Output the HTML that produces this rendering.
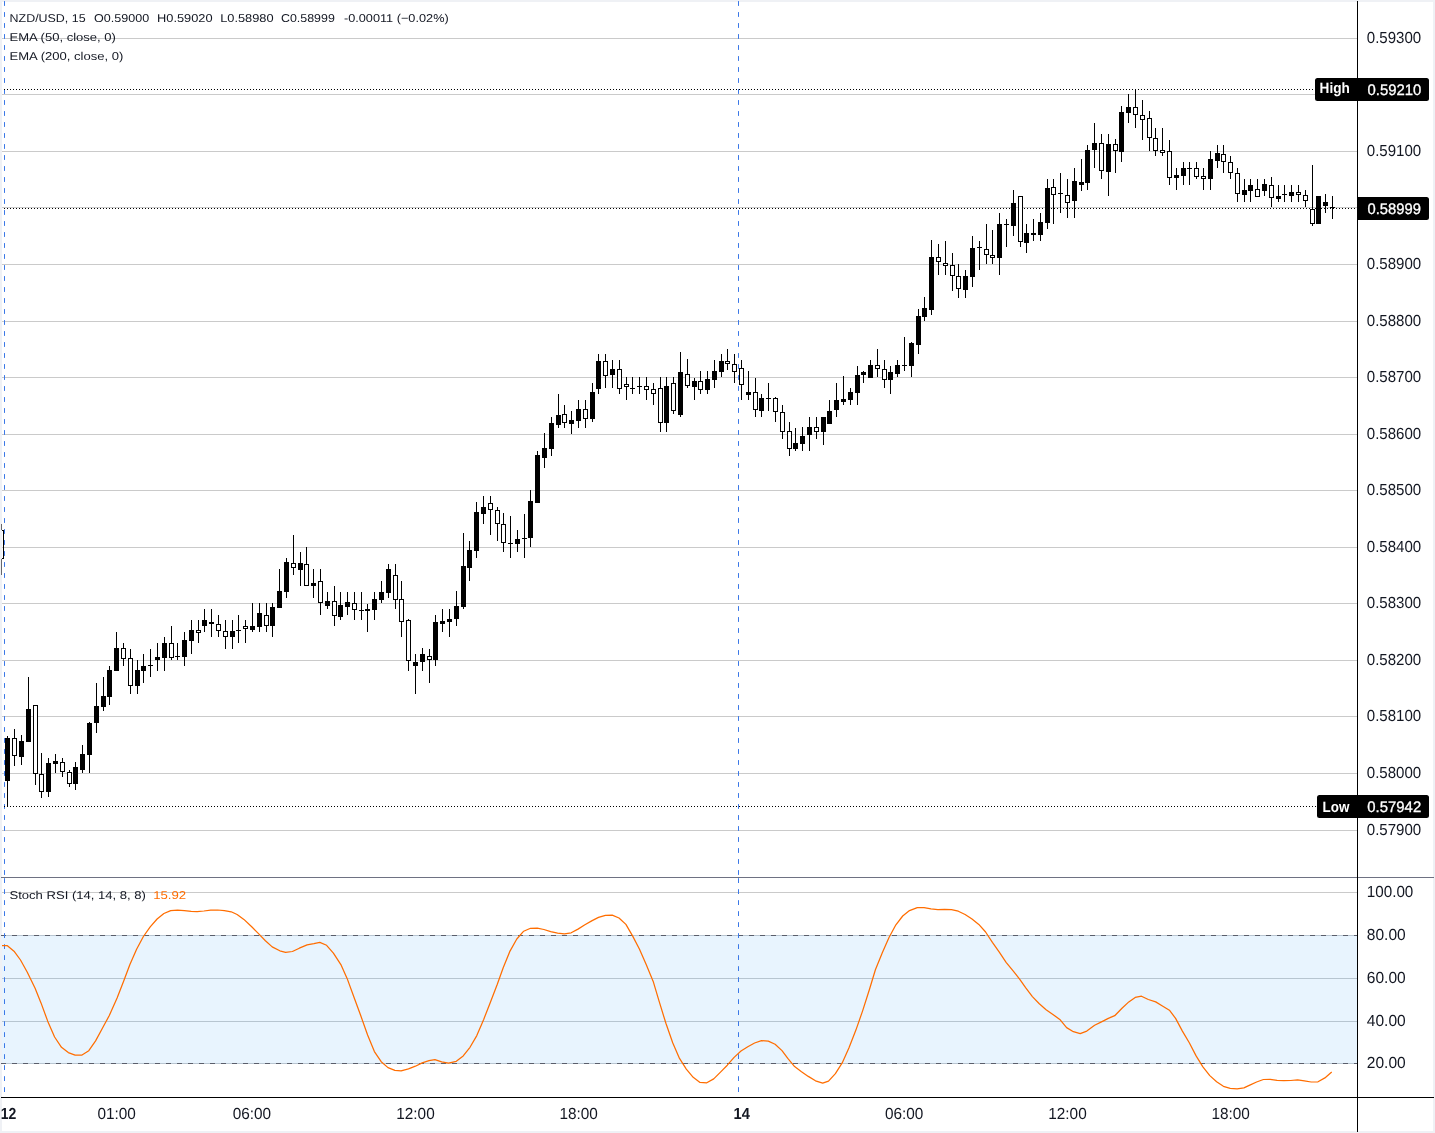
<!DOCTYPE html>
<html><head><meta charset="utf-8"><title>NZD/USD</title>
<style>
html,body{margin:0;padding:0;background:#fff;}
body{width:1435px;height:1133px;overflow:hidden;position:relative;font-family:"Liberation Sans", sans-serif;}
</style></head>
<body>
<svg width="1435" height="1133" viewBox="0 0 1435 1133" style="display:block;position:absolute;left:0;top:0;will-change:transform;text-rendering:geometricPrecision" font-family='"Liberation Sans", sans-serif'>
<rect x="0" y="0" width="1435" height="1133" fill="#eff1f5"/>
<rect x="2" y="2" width="1431" height="1129" fill="#ffffff"/>
<g shape-rendering="crispEdges">
<rect x="2" y="38" width="1355" height="1" fill="#cacaca"/>
<rect x="2" y="94" width="1355" height="1" fill="#cacaca"/>
<rect x="2" y="151" width="1355" height="1" fill="#cacaca"/>
<rect x="2" y="207" width="1355" height="1" fill="#cacaca"/>
<rect x="2" y="264" width="1355" height="1" fill="#cacaca"/>
<rect x="2" y="321" width="1355" height="1" fill="#cacaca"/>
<rect x="2" y="377" width="1355" height="1" fill="#cacaca"/>
<rect x="2" y="434" width="1355" height="1" fill="#cacaca"/>
<rect x="2" y="490" width="1355" height="1" fill="#cacaca"/>
<rect x="2" y="547" width="1355" height="1" fill="#cacaca"/>
<rect x="2" y="603" width="1355" height="1" fill="#cacaca"/>
<rect x="2" y="660" width="1355" height="1" fill="#cacaca"/>
<rect x="2" y="716" width="1355" height="1" fill="#cacaca"/>
<rect x="2" y="773" width="1355" height="1" fill="#cacaca"/>
<rect x="2" y="830" width="1355" height="1" fill="#cacaca"/>
<rect x="2" y="935" width="1355" height="129" fill="#e8f4fe"/>
<rect x="2" y="892" width="1355" height="1" fill="#cacaca"/>
<rect x="2" y="978" width="1355" height="1" fill="#b7c5d0"/>
<rect x="2" y="1021" width="1355" height="1" fill="#b7c5d0"/>
<rect x="2" y="935" width="1355" height="1" fill="#b9c6d2"/>
<rect x="2" y="1063" width="1355" height="1" fill="#b9c6d2"/>
</g>
<line x1="1" y1="935.5" x2="1357" y2="935.5" stroke="#5a5e6b" stroke-width="1" stroke-dasharray="5 6" shape-rendering="crispEdges"/>
<line x1="1" y1="1063.5" x2="1357" y2="1063.5" stroke="#5a5e6b" stroke-width="1" stroke-dasharray="5 6" shape-rendering="crispEdges"/>
<line x1="4.5" y1="1.1" x2="4.5" y2="877" stroke="#3b78e7" stroke-width="1" stroke-dasharray="4.8 6.2"/>
<line x1="4.5" y1="878.2" x2="4.5" y2="1097" stroke="#3b78e7" stroke-width="1" stroke-dasharray="4.8 6.2"/>
<line x1="738.5" y1="1.1" x2="738.5" y2="877" stroke="#3b78e7" stroke-width="1" stroke-dasharray="4.8 6.2"/>
<line x1="738.5" y1="878.2" x2="738.5" y2="1097" stroke="#3b78e7" stroke-width="1" stroke-dasharray="4.8 6.2"/>
<line x1="4" y1="89.5" x2="1315" y2="89.5" stroke="#000" stroke-width="1" stroke-dasharray="1 2" shape-rendering="crispEdges"/>
<line x1="4" y1="208.5" x2="1357" y2="208.5" stroke="#000" stroke-width="1" stroke-dasharray="1 2" shape-rendering="crispEdges"/>
<line x1="4" y1="806.5" x2="1317" y2="806.5" stroke="#000" stroke-width="1" stroke-dasharray="1 2" shape-rendering="crispEdges"/>
<g shape-rendering="crispEdges" fill="#000">
<rect x="7" y="736" width="1" height="70"/>
<rect x="5" y="738" width="5" height="43"/>
<rect x="14" y="729" width="1" height="37"/>
<rect x="12" y="738" width="5" height="18"/>
<rect x="13" y="739" width="3" height="16" fill="#fff"/>
<rect x="21" y="735" width="1" height="30"/>
<rect x="19" y="741" width="5" height="16"/>
<rect x="28" y="677" width="1" height="65"/>
<rect x="26" y="709" width="5" height="33"/>
<rect x="35" y="705" width="1" height="80"/>
<rect x="33" y="705" width="5" height="69"/>
<rect x="34" y="706" width="3" height="67" fill="#fff"/>
<rect x="41" y="753" width="1" height="45"/>
<rect x="39" y="774" width="5" height="18"/>
<rect x="40" y="775" width="3" height="16" fill="#fff"/>
<rect x="48" y="758" width="1" height="39"/>
<rect x="46" y="763" width="5" height="29"/>
<rect x="55" y="754" width="1" height="19"/>
<rect x="53" y="761" width="5" height="3"/>
<rect x="62" y="758" width="1" height="19"/>
<rect x="60" y="762" width="5" height="10"/>
<rect x="61" y="763" width="3" height="8" fill="#fff"/>
<rect x="69" y="770" width="1" height="17"/>
<rect x="67" y="772" width="5" height="12"/>
<rect x="68" y="773" width="3" height="10" fill="#fff"/>
<rect x="75" y="762" width="1" height="28"/>
<rect x="73" y="767" width="5" height="17"/>
<rect x="82" y="745" width="1" height="28"/>
<rect x="80" y="754" width="5" height="16"/>
<rect x="89" y="722" width="1" height="51"/>
<rect x="87" y="723" width="5" height="32"/>
<rect x="96" y="683" width="1" height="50"/>
<rect x="94" y="706" width="5" height="17"/>
<rect x="103" y="677" width="1" height="34"/>
<rect x="101" y="696" width="5" height="11"/>
<rect x="109" y="666" width="1" height="39"/>
<rect x="107" y="670" width="5" height="27"/>
<rect x="116" y="632" width="1" height="39"/>
<rect x="114" y="648" width="5" height="23"/>
<rect x="123" y="643" width="1" height="23"/>
<rect x="121" y="648" width="5" height="11"/>
<rect x="122" y="649" width="3" height="9" fill="#fff"/>
<rect x="130" y="649" width="1" height="45"/>
<rect x="128" y="658" width="5" height="28"/>
<rect x="129" y="659" width="3" height="26" fill="#fff"/>
<rect x="137" y="660" width="1" height="34"/>
<rect x="135" y="670" width="5" height="16"/>
<rect x="143" y="654" width="1" height="29"/>
<rect x="141" y="666" width="5" height="5"/>
<rect x="150" y="649" width="1" height="28"/>
<rect x="148" y="665" width="5" height="1"/>
<rect x="157" y="643" width="1" height="28"/>
<rect x="155" y="657" width="5" height="3"/>
<rect x="164" y="637" width="1" height="34"/>
<rect x="162" y="643" width="5" height="15"/>
<rect x="171" y="626" width="1" height="34"/>
<rect x="169" y="643" width="5" height="15"/>
<rect x="170" y="644" width="3" height="13" fill="#fff"/>
<rect x="177" y="643" width="1" height="17"/>
<rect x="175" y="656" width="5" height="1"/>
<rect x="184" y="632" width="1" height="34"/>
<rect x="182" y="640" width="5" height="17"/>
<rect x="191" y="620" width="1" height="34"/>
<rect x="189" y="630" width="5" height="11"/>
<rect x="198" y="620" width="1" height="23"/>
<rect x="196" y="630" width="5" height="3"/>
<rect x="197" y="631" width="3" height="1" fill="#fff"/>
<rect x="204" y="609" width="1" height="23"/>
<rect x="202" y="620" width="5" height="6"/>
<rect x="211" y="609" width="1" height="28"/>
<rect x="209" y="622" width="5" height="2"/>
<rect x="218" y="615" width="1" height="22"/>
<rect x="216" y="624" width="5" height="7"/>
<rect x="217" y="625" width="3" height="5" fill="#fff"/>
<rect x="225" y="620" width="1" height="29"/>
<rect x="223" y="631" width="5" height="6"/>
<rect x="224" y="632" width="3" height="4" fill="#fff"/>
<rect x="232" y="620" width="1" height="29"/>
<rect x="230" y="631" width="5" height="6"/>
<rect x="238" y="615" width="1" height="28"/>
<rect x="236" y="630" width="5" height="1"/>
<rect x="245" y="620" width="1" height="23"/>
<rect x="243" y="626" width="5" height="3"/>
<rect x="244" y="627" width="3" height="1" fill="#fff"/>
<rect x="252" y="603" width="1" height="29"/>
<rect x="250" y="626" width="5" height="4"/>
<rect x="259" y="603" width="1" height="29"/>
<rect x="257" y="613" width="5" height="14"/>
<rect x="266" y="603" width="1" height="29"/>
<rect x="264" y="615" width="5" height="11"/>
<rect x="265" y="616" width="3" height="9" fill="#fff"/>
<rect x="272" y="603" width="1" height="34"/>
<rect x="270" y="607" width="5" height="19"/>
<rect x="279" y="569" width="1" height="39"/>
<rect x="277" y="591" width="5" height="17"/>
<rect x="286" y="558" width="1" height="40"/>
<rect x="284" y="562" width="5" height="30"/>
<rect x="293" y="535" width="1" height="40"/>
<rect x="291" y="563" width="5" height="5"/>
<rect x="292" y="564" width="3" height="3" fill="#fff"/>
<rect x="300" y="552" width="1" height="34"/>
<rect x="298" y="563" width="5" height="7"/>
<rect x="306" y="547" width="1" height="39"/>
<rect x="304" y="564" width="5" height="22"/>
<rect x="305" y="565" width="3" height="20" fill="#fff"/>
<rect x="313" y="569" width="1" height="29"/>
<rect x="311" y="583" width="5" height="3"/>
<rect x="320" y="569" width="1" height="46"/>
<rect x="318" y="581" width="5" height="22"/>
<rect x="319" y="582" width="3" height="20" fill="#fff"/>
<rect x="327" y="592" width="1" height="17"/>
<rect x="325" y="601" width="5" height="5"/>
<rect x="334" y="586" width="1" height="40"/>
<rect x="332" y="601" width="5" height="15"/>
<rect x="333" y="602" width="3" height="13" fill="#fff"/>
<rect x="340" y="592" width="1" height="28"/>
<rect x="338" y="605" width="5" height="12"/>
<rect x="347" y="592" width="1" height="23"/>
<rect x="345" y="602" width="5" height="5"/>
<rect x="354" y="592" width="1" height="28"/>
<rect x="352" y="603" width="5" height="7"/>
<rect x="353" y="604" width="3" height="5" fill="#fff"/>
<rect x="361" y="592" width="1" height="28"/>
<rect x="359" y="610" width="5" height="1"/>
<rect x="367" y="604" width="1" height="28"/>
<rect x="365" y="609" width="5" height="2"/>
<rect x="374" y="592" width="1" height="28"/>
<rect x="372" y="599" width="5" height="11"/>
<rect x="381" y="581" width="1" height="22"/>
<rect x="379" y="592" width="5" height="8"/>
<rect x="388" y="564" width="1" height="34"/>
<rect x="386" y="569" width="5" height="24"/>
<rect x="395" y="564" width="1" height="45"/>
<rect x="393" y="575" width="5" height="25"/>
<rect x="394" y="576" width="3" height="23" fill="#fff"/>
<rect x="401" y="581" width="1" height="56"/>
<rect x="399" y="599" width="5" height="23"/>
<rect x="400" y="600" width="3" height="21" fill="#fff"/>
<rect x="408" y="619" width="1" height="52"/>
<rect x="406" y="620" width="5" height="41"/>
<rect x="407" y="621" width="3" height="39" fill="#fff"/>
<rect x="415" y="654" width="1" height="40"/>
<rect x="413" y="662" width="5" height="4"/>
<rect x="422" y="648" width="1" height="23"/>
<rect x="420" y="654" width="5" height="8"/>
<rect x="429" y="649" width="1" height="34"/>
<rect x="427" y="656" width="5" height="4"/>
<rect x="428" y="657" width="3" height="2" fill="#fff"/>
<rect x="435" y="615" width="1" height="51"/>
<rect x="433" y="622" width="5" height="38"/>
<rect x="442" y="609" width="1" height="23"/>
<rect x="440" y="621" width="5" height="3"/>
<rect x="449" y="609" width="1" height="28"/>
<rect x="447" y="619" width="5" height="3"/>
<rect x="456" y="591" width="1" height="35"/>
<rect x="454" y="606" width="5" height="13"/>
<rect x="463" y="533" width="1" height="76"/>
<rect x="461" y="566" width="5" height="41"/>
<rect x="469" y="541" width="1" height="40"/>
<rect x="467" y="550" width="5" height="18"/>
<rect x="476" y="502" width="1" height="56"/>
<rect x="474" y="512" width="5" height="39"/>
<rect x="483" y="496" width="1" height="28"/>
<rect x="481" y="507" width="5" height="7"/>
<rect x="490" y="496" width="1" height="39"/>
<rect x="488" y="503" width="5" height="7"/>
<rect x="489" y="504" width="3" height="5" fill="#fff"/>
<rect x="497" y="507" width="1" height="34"/>
<rect x="495" y="510" width="5" height="14"/>
<rect x="496" y="511" width="3" height="12" fill="#fff"/>
<rect x="503" y="513" width="1" height="39"/>
<rect x="501" y="524" width="5" height="19"/>
<rect x="502" y="525" width="3" height="17" fill="#fff"/>
<rect x="510" y="516" width="1" height="42"/>
<rect x="508" y="543" width="5" height="1"/>
<rect x="517" y="530" width="1" height="22"/>
<rect x="515" y="539" width="5" height="5"/>
<rect x="524" y="514" width="1" height="44"/>
<rect x="522" y="538" width="5" height="1"/>
<rect x="530" y="490" width="1" height="57"/>
<rect x="528" y="501" width="5" height="37"/>
<rect x="537" y="451" width="1" height="52"/>
<rect x="535" y="455" width="5" height="48"/>
<rect x="544" y="433" width="1" height="35"/>
<rect x="542" y="448" width="5" height="10"/>
<rect x="551" y="417" width="1" height="39"/>
<rect x="549" y="423" width="5" height="26"/>
<rect x="558" y="394" width="1" height="34"/>
<rect x="556" y="415" width="5" height="10"/>
<rect x="564" y="405" width="1" height="23"/>
<rect x="562" y="414" width="5" height="9"/>
<rect x="563" y="415" width="3" height="7" fill="#fff"/>
<rect x="571" y="411" width="1" height="23"/>
<rect x="569" y="420" width="5" height="4"/>
<rect x="578" y="400" width="1" height="28"/>
<rect x="576" y="409" width="5" height="12"/>
<rect x="585" y="400" width="1" height="28"/>
<rect x="583" y="409" width="5" height="10"/>
<rect x="584" y="410" width="3" height="8" fill="#fff"/>
<rect x="592" y="383" width="1" height="39"/>
<rect x="590" y="392" width="5" height="27"/>
<rect x="598" y="354" width="1" height="40"/>
<rect x="596" y="361" width="5" height="28"/>
<rect x="605" y="354" width="1" height="34"/>
<rect x="603" y="361" width="5" height="15"/>
<rect x="604" y="362" width="3" height="13" fill="#fff"/>
<rect x="612" y="360" width="1" height="28"/>
<rect x="610" y="369" width="5" height="6"/>
<rect x="619" y="360" width="1" height="34"/>
<rect x="617" y="369" width="5" height="20"/>
<rect x="618" y="370" width="3" height="18" fill="#fff"/>
<rect x="626" y="377" width="1" height="23"/>
<rect x="624" y="384" width="5" height="3"/>
<rect x="625" y="385" width="3" height="1" fill="#fff"/>
<rect x="632" y="377" width="1" height="17"/>
<rect x="630" y="388" width="5" height="1"/>
<rect x="639" y="377" width="1" height="17"/>
<rect x="637" y="386" width="5" height="1"/>
<rect x="646" y="377" width="1" height="23"/>
<rect x="644" y="386" width="5" height="4"/>
<rect x="645" y="387" width="3" height="2" fill="#fff"/>
<rect x="653" y="383" width="1" height="22"/>
<rect x="651" y="389" width="5" height="5"/>
<rect x="652" y="390" width="3" height="3" fill="#fff"/>
<rect x="660" y="377" width="1" height="55"/>
<rect x="658" y="388" width="5" height="35"/>
<rect x="659" y="389" width="3" height="33" fill="#fff"/>
<rect x="666" y="377" width="1" height="55"/>
<rect x="664" y="386" width="5" height="37"/>
<rect x="673" y="377" width="1" height="37"/>
<rect x="671" y="383" width="5" height="28"/>
<rect x="672" y="384" width="3" height="26" fill="#fff"/>
<rect x="680" y="352" width="1" height="65"/>
<rect x="678" y="372" width="5" height="43"/>
<rect x="687" y="359" width="1" height="29"/>
<rect x="685" y="374" width="5" height="12"/>
<rect x="686" y="375" width="3" height="10" fill="#fff"/>
<rect x="694" y="378" width="1" height="22"/>
<rect x="692" y="381" width="5" height="6"/>
<rect x="700" y="371" width="1" height="23"/>
<rect x="698" y="381" width="5" height="9"/>
<rect x="699" y="382" width="3" height="7" fill="#fff"/>
<rect x="707" y="371" width="1" height="23"/>
<rect x="705" y="379" width="5" height="11"/>
<rect x="714" y="360" width="1" height="28"/>
<rect x="712" y="371" width="5" height="9"/>
<rect x="721" y="354" width="1" height="23"/>
<rect x="719" y="361" width="5" height="11"/>
<rect x="727" y="349" width="1" height="21"/>
<rect x="725" y="361" width="5" height="3"/>
<rect x="726" y="362" width="3" height="1" fill="#fff"/>
<rect x="734" y="354" width="1" height="29"/>
<rect x="732" y="364" width="5" height="8"/>
<rect x="733" y="365" width="3" height="6" fill="#fff"/>
<rect x="741" y="360" width="1" height="40"/>
<rect x="739" y="368" width="5" height="17"/>
<rect x="740" y="369" width="3" height="15" fill="#fff"/>
<rect x="748" y="371" width="1" height="29"/>
<rect x="746" y="392" width="5" height="3"/>
<rect x="755" y="378" width="1" height="39"/>
<rect x="753" y="392" width="5" height="18"/>
<rect x="754" y="393" width="3" height="16" fill="#fff"/>
<rect x="761" y="394" width="1" height="23"/>
<rect x="759" y="398" width="5" height="13"/>
<rect x="768" y="383" width="1" height="28"/>
<rect x="766" y="398" width="5" height="1"/>
<rect x="775" y="397" width="1" height="25"/>
<rect x="773" y="398" width="5" height="14"/>
<rect x="774" y="399" width="3" height="12" fill="#fff"/>
<rect x="782" y="405" width="1" height="34"/>
<rect x="780" y="412" width="5" height="20"/>
<rect x="781" y="413" width="3" height="18" fill="#fff"/>
<rect x="789" y="422" width="1" height="34"/>
<rect x="787" y="431" width="5" height="18"/>
<rect x="788" y="432" width="3" height="16" fill="#fff"/>
<rect x="795" y="428" width="1" height="23"/>
<rect x="793" y="443" width="5" height="6"/>
<rect x="802" y="427" width="1" height="24"/>
<rect x="800" y="436" width="5" height="8"/>
<rect x="809" y="417" width="1" height="34"/>
<rect x="807" y="427" width="5" height="8"/>
<rect x="816" y="417" width="1" height="22"/>
<rect x="814" y="427" width="5" height="5"/>
<rect x="815" y="428" width="3" height="3" fill="#fff"/>
<rect x="823" y="417" width="1" height="28"/>
<rect x="821" y="417" width="5" height="15"/>
<rect x="829" y="400" width="1" height="24"/>
<rect x="827" y="411" width="5" height="13"/>
<rect x="836" y="383" width="1" height="34"/>
<rect x="834" y="400" width="5" height="10"/>
<rect x="843" y="376" width="1" height="29"/>
<rect x="841" y="399" width="5" height="3"/>
<rect x="850" y="388" width="1" height="17"/>
<rect x="848" y="392" width="5" height="8"/>
<rect x="857" y="366" width="1" height="39"/>
<rect x="855" y="375" width="5" height="18"/>
<rect x="863" y="371" width="1" height="12"/>
<rect x="861" y="372" width="5" height="3"/>
<rect x="870" y="360" width="1" height="18"/>
<rect x="868" y="365" width="5" height="13"/>
<rect x="877" y="349" width="1" height="28"/>
<rect x="875" y="365" width="5" height="4"/>
<rect x="876" y="366" width="3" height="2" fill="#fff"/>
<rect x="884" y="360" width="1" height="28"/>
<rect x="882" y="369" width="5" height="11"/>
<rect x="883" y="370" width="3" height="9" fill="#fff"/>
<rect x="890" y="366" width="1" height="28"/>
<rect x="888" y="372" width="5" height="8"/>
<rect x="897" y="360" width="1" height="17"/>
<rect x="895" y="365" width="5" height="9"/>
<rect x="904" y="337" width="1" height="34"/>
<rect x="902" y="365" width="5" height="1"/>
<rect x="911" y="342" width="1" height="35"/>
<rect x="909" y="343" width="5" height="23"/>
<rect x="918" y="309" width="1" height="45"/>
<rect x="916" y="316" width="5" height="29"/>
<rect x="924" y="297" width="1" height="24"/>
<rect x="922" y="308" width="5" height="9"/>
<rect x="931" y="240" width="1" height="75"/>
<rect x="929" y="257" width="5" height="53"/>
<rect x="938" y="244" width="1" height="31"/>
<rect x="936" y="257" width="5" height="5"/>
<rect x="937" y="258" width="3" height="3" fill="#fff"/>
<rect x="945" y="241" width="1" height="34"/>
<rect x="943" y="263" width="5" height="3"/>
<rect x="944" y="264" width="3" height="1" fill="#fff"/>
<rect x="952" y="253" width="1" height="38"/>
<rect x="950" y="265" width="5" height="11"/>
<rect x="951" y="266" width="3" height="9" fill="#fff"/>
<rect x="958" y="264" width="1" height="34"/>
<rect x="956" y="276" width="5" height="13"/>
<rect x="957" y="277" width="3" height="11" fill="#fff"/>
<rect x="965" y="270" width="1" height="28"/>
<rect x="963" y="276" width="5" height="14"/>
<rect x="972" y="236" width="1" height="51"/>
<rect x="970" y="248" width="5" height="29"/>
<rect x="979" y="241" width="1" height="29"/>
<rect x="977" y="247" width="5" height="1"/>
<rect x="986" y="224" width="1" height="40"/>
<rect x="984" y="249" width="5" height="6"/>
<rect x="985" y="250" width="3" height="4" fill="#fff"/>
<rect x="992" y="230" width="1" height="34"/>
<rect x="990" y="255" width="5" height="3"/>
<rect x="991" y="256" width="3" height="1" fill="#fff"/>
<rect x="999" y="213" width="1" height="62"/>
<rect x="997" y="224" width="5" height="34"/>
<rect x="1006" y="219" width="1" height="28"/>
<rect x="1004" y="224" width="5" height="1"/>
<rect x="1013" y="190" width="1" height="46"/>
<rect x="1011" y="203" width="5" height="23"/>
<rect x="1020" y="196" width="1" height="51"/>
<rect x="1018" y="196" width="5" height="46"/>
<rect x="1019" y="197" width="3" height="44" fill="#fff"/>
<rect x="1026" y="224" width="1" height="29"/>
<rect x="1024" y="233" width="5" height="10"/>
<rect x="1033" y="219" width="1" height="22"/>
<rect x="1031" y="233" width="5" height="2"/>
<rect x="1040" y="213" width="1" height="28"/>
<rect x="1038" y="222" width="5" height="13"/>
<rect x="1047" y="179" width="1" height="50"/>
<rect x="1045" y="188" width="5" height="35"/>
<rect x="1053" y="179" width="1" height="45"/>
<rect x="1051" y="187" width="5" height="8"/>
<rect x="1052" y="188" width="3" height="6" fill="#fff"/>
<rect x="1060" y="173" width="1" height="40"/>
<rect x="1058" y="193" width="5" height="1"/>
<rect x="1067" y="179" width="1" height="39"/>
<rect x="1065" y="195" width="5" height="8"/>
<rect x="1066" y="196" width="3" height="6" fill="#fff"/>
<rect x="1074" y="168" width="1" height="50"/>
<rect x="1072" y="181" width="5" height="20"/>
<rect x="1081" y="159" width="1" height="32"/>
<rect x="1079" y="182" width="5" height="3"/>
<rect x="1087" y="145" width="1" height="45"/>
<rect x="1085" y="150" width="5" height="33"/>
<rect x="1094" y="123" width="1" height="45"/>
<rect x="1092" y="143" width="5" height="7"/>
<rect x="1101" y="134" width="1" height="45"/>
<rect x="1099" y="143" width="5" height="28"/>
<rect x="1100" y="144" width="3" height="26" fill="#fff"/>
<rect x="1108" y="134" width="1" height="62"/>
<rect x="1106" y="144" width="5" height="28"/>
<rect x="1115" y="139" width="1" height="34"/>
<rect x="1113" y="144" width="5" height="7"/>
<rect x="1114" y="145" width="3" height="5" fill="#fff"/>
<rect x="1121" y="106" width="1" height="56"/>
<rect x="1119" y="112" width="5" height="40"/>
<rect x="1128" y="94" width="1" height="29"/>
<rect x="1126" y="107" width="5" height="6"/>
<rect x="1135" y="89" width="1" height="39"/>
<rect x="1133" y="107" width="5" height="8"/>
<rect x="1134" y="108" width="3" height="6" fill="#fff"/>
<rect x="1142" y="100" width="1" height="40"/>
<rect x="1140" y="115" width="5" height="5"/>
<rect x="1141" y="116" width="3" height="3" fill="#fff"/>
<rect x="1149" y="111" width="1" height="40"/>
<rect x="1147" y="118" width="5" height="20"/>
<rect x="1148" y="119" width="3" height="18" fill="#fff"/>
<rect x="1155" y="128" width="1" height="28"/>
<rect x="1153" y="138" width="5" height="13"/>
<rect x="1154" y="139" width="3" height="11" fill="#fff"/>
<rect x="1162" y="128" width="1" height="28"/>
<rect x="1160" y="150" width="5" height="3"/>
<rect x="1161" y="151" width="3" height="1" fill="#fff"/>
<rect x="1169" y="140" width="1" height="45"/>
<rect x="1167" y="151" width="5" height="27"/>
<rect x="1168" y="152" width="3" height="25" fill="#fff"/>
<rect x="1176" y="168" width="1" height="22"/>
<rect x="1174" y="175" width="5" height="3"/>
<rect x="1183" y="162" width="1" height="23"/>
<rect x="1181" y="168" width="5" height="8"/>
<rect x="1189" y="162" width="1" height="23"/>
<rect x="1187" y="168" width="5" height="1"/>
<rect x="1196" y="162" width="1" height="17"/>
<rect x="1194" y="168" width="5" height="9"/>
<rect x="1195" y="169" width="3" height="7" fill="#fff"/>
<rect x="1203" y="168" width="1" height="22"/>
<rect x="1201" y="176" width="5" height="3"/>
<rect x="1202" y="177" width="3" height="1" fill="#fff"/>
<rect x="1210" y="151" width="1" height="39"/>
<rect x="1208" y="159" width="5" height="20"/>
<rect x="1217" y="145" width="1" height="23"/>
<rect x="1215" y="153" width="5" height="8"/>
<rect x="1223" y="145" width="1" height="28"/>
<rect x="1221" y="154" width="5" height="8"/>
<rect x="1222" y="155" width="3" height="6" fill="#fff"/>
<rect x="1230" y="156" width="1" height="23"/>
<rect x="1228" y="162" width="5" height="11"/>
<rect x="1229" y="163" width="3" height="9" fill="#fff"/>
<rect x="1237" y="168" width="1" height="34"/>
<rect x="1235" y="173" width="5" height="21"/>
<rect x="1236" y="174" width="3" height="19" fill="#fff"/>
<rect x="1244" y="179" width="1" height="23"/>
<rect x="1242" y="190" width="5" height="5"/>
<rect x="1250" y="179" width="1" height="23"/>
<rect x="1248" y="185" width="5" height="6"/>
<rect x="1257" y="179" width="1" height="18"/>
<rect x="1255" y="189" width="5" height="8"/>
<rect x="1256" y="190" width="3" height="6" fill="#fff"/>
<rect x="1264" y="179" width="1" height="17"/>
<rect x="1262" y="184" width="5" height="7"/>
<rect x="1271" y="177" width="1" height="30"/>
<rect x="1269" y="185" width="5" height="13"/>
<rect x="1270" y="186" width="3" height="11" fill="#fff"/>
<rect x="1278" y="185" width="1" height="17"/>
<rect x="1276" y="196" width="5" height="3"/>
<rect x="1284" y="185" width="1" height="17"/>
<rect x="1282" y="194" width="5" height="1"/>
<rect x="1291" y="185" width="1" height="17"/>
<rect x="1289" y="192" width="5" height="4"/>
<rect x="1298" y="185" width="1" height="17"/>
<rect x="1296" y="192" width="5" height="3"/>
<rect x="1297" y="193" width="3" height="1" fill="#fff"/>
<rect x="1305" y="190" width="1" height="17"/>
<rect x="1303" y="195" width="5" height="6"/>
<rect x="1304" y="196" width="3" height="4" fill="#fff"/>
<rect x="1312" y="165" width="1" height="61"/>
<rect x="1310" y="209" width="5" height="15"/>
<rect x="1311" y="210" width="3" height="13" fill="#fff"/>
<rect x="1318" y="196" width="1" height="28"/>
<rect x="1316" y="196" width="5" height="28"/>
<rect x="1325" y="194" width="1" height="19"/>
<rect x="1323" y="202" width="5" height="4"/>
<rect x="1332" y="196" width="1" height="23"/>
<rect x="1330" y="207" width="5" height="1"/>
</g>
<g shape-rendering="crispEdges">
<rect x="3" y="530" width="1" height="29" fill="#000"/>
<rect x="2" y="530" width="2" height="1" fill="#000"/>
<rect x="2" y="558" width="2" height="1" fill="#000"/>
<rect x="1" y="524" width="1" height="6" fill="#66676c"/>
<rect x="1" y="559" width="1" height="16" fill="#66676c"/>
</g>
<polyline points="2.0,945.7 7.4,945.7 14.0,951.2 20.5,960.0 27.3,972.2 35.1,988.2 41.0,1002.9 47.8,1021.4 54.6,1037.0 61.5,1047.3 68.3,1052.6 75.1,1055.1 82.0,1055.1 88.8,1050.7 95.6,1040.9 102.4,1028.2 109.3,1015.5 117.1,998.0 123.9,980.4 129.8,964.8 136.6,949.2 143.4,936.5 150.2,926.8 157.1,919.0 163.9,913.5 170.7,910.6 177.6,910.2 184.4,910.6 191.2,911.4 197.1,911.6 203.9,911.0 210.7,910.2 217.6,910.0 224.4,910.6 231.2,911.8 237.1,914.5 243.9,919.4 251.7,926.8 258.5,933.6 265.4,940.8 272.2,946.9 279.8,950.8 285.6,952.3 292.4,951.5 299.3,948.2 307.1,944.9 313.9,943.7 319.8,942.4 326.6,945.3 333.4,953.1 341.2,965.2 347.1,978.4 353.9,997.0 360.7,1015.5 367.6,1035.0 374.4,1051.6 381.2,1061.7 388.0,1067.6 394.9,1070.3 401.1,1070.9 408.5,1068.8 415.4,1066.2 422.2,1062.9 429.0,1060.6 434.9,1059.6 441.7,1061.9 448.5,1063.1 456.3,1061.3 463.2,1055.9 470.0,1047.3 476.8,1035.6 483.7,1019.4 490.5,1001.9 497.3,984.3 503.2,967.7 510.0,951.1 516.8,939.0 523.7,931.2 530.5,928.3 537.3,928.1 543.9,929.5 550.7,931.6 557.6,933.2 564.4,933.8 571.2,932.8 578.0,929.1 584.9,924.8 591.7,920.9 598.5,917.4 605.4,915.3 612.2,915.1 619.0,918.0 625.9,924.4 632.7,936.1 639.5,949.2 646.3,964.8 653.2,981.4 659.0,1000.9 665.9,1023.3 672.7,1042.8 679.5,1058.4 686.3,1069.1 693.2,1077.3 700.0,1082.4 706.8,1082.8 713.7,1078.9 720.5,1072.1 727.3,1065.2 734.1,1057.4 741.0,1051.0 747.8,1046.7 754.6,1043.0 761.5,1040.7 768.3,1041.1 775.1,1044.2 782.0,1050.6 787.8,1058.4 794.6,1066.6 801.5,1071.7 808.3,1076.4 815.5,1080.8 822.7,1083.2 828.5,1081.2 835.4,1073.6 842.2,1062.9 849.0,1047.7 855.9,1030.1 862.7,1010.6 869.5,989.2 875.4,969.7 882.2,953.1 889.0,937.5 895.9,924.8 902.7,916.0 909.5,910.6 917.3,907.6 924.1,907.6 931.0,908.8 937.8,909.6 944.6,909.4 951.5,909.6 958.3,911.2 965.1,914.5 972.0,919.0 978.8,924.4 985.6,932.0 992.4,942.4 999.3,952.1 1006.1,962.3 1012.9,970.6 1019.8,979.4 1025.6,987.6 1032.4,996.6 1039.3,1003.8 1046.1,1009.7 1052.9,1014.5 1059.8,1019.4 1066.6,1027.6 1073.4,1031.7 1080.2,1033.6 1086.8,1031.1 1094.6,1025.3 1101.5,1021.9 1108.3,1018.4 1114.7,1015.7 1122.0,1008.3 1128.8,1001.9 1135.2,997.4 1141.5,996.2 1148.3,999.5 1155.7,1001.9 1162.0,1005.8 1169.4,1010.2 1175.6,1018.4 1182.4,1031.1 1189.3,1042.8 1196.1,1055.9 1202.9,1066.8 1209.8,1075.6 1216.6,1081.8 1223.4,1086.3 1230.2,1088.3 1237.1,1088.8 1243.9,1087.9 1249.8,1085.1 1256.6,1082.0 1263.4,1079.5 1270.2,1079.3 1277.1,1080.3 1283.9,1080.6 1290.7,1080.5 1297.6,1079.9 1304.4,1080.8 1311.2,1082.0 1318.0,1081.8 1324.9,1077.9 1331.7,1072.1" fill="none" stroke="#ff6d00" stroke-width="1.25" stroke-linejoin="round"/>
<g shape-rendering="crispEdges">
<rect x="1" y="877" width="1433" height="1" fill="#6e7182"/>
<rect x="1357" y="1" width="1" height="1131" fill="#000"/>
<rect x="1" y="1097" width="1433" height="1" fill="#000"/>
</g>
<text x="1366.8" y="43.0" font-size="16.0" fill="#131722" font-weight="normal" text-anchor="start" textLength="54.4" lengthAdjust="spacingAndGlyphs">0.59300</text>
<text x="1366.8" y="156.0" font-size="16.0" fill="#131722" font-weight="normal" text-anchor="start" textLength="54.4" lengthAdjust="spacingAndGlyphs">0.59100</text>
<text x="1366.8" y="269.0" font-size="16.0" fill="#131722" font-weight="normal" text-anchor="start" textLength="54.4" lengthAdjust="spacingAndGlyphs">0.58900</text>
<text x="1366.8" y="326.0" font-size="16.0" fill="#131722" font-weight="normal" text-anchor="start" textLength="54.4" lengthAdjust="spacingAndGlyphs">0.58800</text>
<text x="1366.8" y="382.0" font-size="16.0" fill="#131722" font-weight="normal" text-anchor="start" textLength="54.4" lengthAdjust="spacingAndGlyphs">0.58700</text>
<text x="1366.8" y="439.0" font-size="16.0" fill="#131722" font-weight="normal" text-anchor="start" textLength="54.4" lengthAdjust="spacingAndGlyphs">0.58600</text>
<text x="1366.8" y="495.0" font-size="16.0" fill="#131722" font-weight="normal" text-anchor="start" textLength="54.4" lengthAdjust="spacingAndGlyphs">0.58500</text>
<text x="1366.8" y="552.0" font-size="16.0" fill="#131722" font-weight="normal" text-anchor="start" textLength="54.4" lengthAdjust="spacingAndGlyphs">0.58400</text>
<text x="1366.8" y="608.0" font-size="16.0" fill="#131722" font-weight="normal" text-anchor="start" textLength="54.4" lengthAdjust="spacingAndGlyphs">0.58300</text>
<text x="1366.8" y="665.0" font-size="16.0" fill="#131722" font-weight="normal" text-anchor="start" textLength="54.4" lengthAdjust="spacingAndGlyphs">0.58200</text>
<text x="1366.8" y="721.0" font-size="16.0" fill="#131722" font-weight="normal" text-anchor="start" textLength="54.4" lengthAdjust="spacingAndGlyphs">0.58100</text>
<text x="1366.8" y="778.0" font-size="16.0" fill="#131722" font-weight="normal" text-anchor="start" textLength="54.4" lengthAdjust="spacingAndGlyphs">0.58000</text>
<text x="1366.8" y="835.0" font-size="16.0" fill="#131722" font-weight="normal" text-anchor="start" textLength="54.4" lengthAdjust="spacingAndGlyphs">0.57900</text>
<text x="1366.8" y="897.0" font-size="16.0" fill="#131722" font-weight="normal" text-anchor="start" textLength="46.5" lengthAdjust="spacingAndGlyphs">100.00</text>
<text x="1366.8" y="940.0" font-size="16.0" fill="#131722" font-weight="normal" text-anchor="start" textLength="38.9" lengthAdjust="spacingAndGlyphs">80.00</text>
<text x="1366.8" y="983.0" font-size="16.0" fill="#131722" font-weight="normal" text-anchor="start" textLength="38.9" lengthAdjust="spacingAndGlyphs">60.00</text>
<text x="1366.8" y="1026.0" font-size="16.0" fill="#131722" font-weight="normal" text-anchor="start" textLength="38.9" lengthAdjust="spacingAndGlyphs">40.00</text>
<text x="1366.8" y="1068.0" font-size="16.0" fill="#131722" font-weight="normal" text-anchor="start" textLength="38.9" lengthAdjust="spacingAndGlyphs">20.00</text>
<rect x="1315" y="78" width="114" height="23" rx="2.5" fill="#000"/>
<text x="1319.6" y="92.6" font-size="15" fill="#fff" font-weight="bold" text-anchor="start" textLength="30.2" lengthAdjust="spacingAndGlyphs">High</text>
<text x="1367.5" y="94.9" font-size="15.3" fill="#fff" font-weight="normal" text-anchor="start" textLength="53.8" lengthAdjust="spacingAndGlyphs" stroke="#fff" stroke-width="0.3">0.59210</text>
<rect x="1317" y="795" width="112" height="23" rx="2.5" fill="#000"/>
<text x="1322.6" y="811.6" font-size="15" fill="#fff" font-weight="bold" text-anchor="start" textLength="26.8" lengthAdjust="spacingAndGlyphs">Low</text>
<text x="1367.3" y="811.9" font-size="15.3" fill="#fff" font-weight="normal" text-anchor="start" textLength="53.9" lengthAdjust="spacingAndGlyphs" stroke="#fff" stroke-width="0.3">0.57942</text>
<path d="M1357 197 H1426.5 a2.5 2.5 0 0 1 2.5 2.5 V217.5 a2.5 2.5 0 0 1 -2.5 2.5 H1357 Z" fill="#000"/>
<text x="1367.5" y="213.9" font-size="15.3" fill="#fff" font-weight="normal" text-anchor="start" textLength="53.4" lengthAdjust="spacingAndGlyphs" stroke="#fff" stroke-width="0.3">0.58999</text>
<text x="116.60000000000001" y="1119.0" font-size="16.0" fill="#131722" font-weight="normal" text-anchor="middle" textLength="38.4" lengthAdjust="spacingAndGlyphs">01:00</text>
<text x="251.89999999999998" y="1119.0" font-size="16.0" fill="#131722" font-weight="normal" text-anchor="middle" textLength="38.4" lengthAdjust="spacingAndGlyphs">06:00</text>
<text x="415.5" y="1119.0" font-size="16.0" fill="#131722" font-weight="normal" text-anchor="middle" textLength="38.4" lengthAdjust="spacingAndGlyphs">12:00</text>
<text x="578.6" y="1119.0" font-size="16.0" fill="#131722" font-weight="normal" text-anchor="middle" textLength="38.4" lengthAdjust="spacingAndGlyphs">18:00</text>
<text x="904.2" y="1119.0" font-size="16.0" fill="#131722" font-weight="normal" text-anchor="middle" textLength="38.4" lengthAdjust="spacingAndGlyphs">06:00</text>
<text x="1067.5" y="1119.0" font-size="16.0" fill="#131722" font-weight="normal" text-anchor="middle" textLength="38.4" lengthAdjust="spacingAndGlyphs">12:00</text>
<text x="1230.6000000000001" y="1119.0" font-size="16.0" fill="#131722" font-weight="normal" text-anchor="middle" textLength="38.4" lengthAdjust="spacingAndGlyphs">18:00</text>
<text x="0.8" y="1119.0" font-size="16.0" fill="#131722" font-weight="bold" text-anchor="start" textLength="15.6" lengthAdjust="spacingAndGlyphs">12</text>
<text x="741.7" y="1119.0" font-size="16.0" fill="#131722" font-weight="bold" text-anchor="middle" textLength="16.3" lengthAdjust="spacingAndGlyphs">14</text>
<text x="9.6" y="21.55" font-size="11.4" fill="#131722" font-weight="normal" text-anchor="start" textLength="76.0" lengthAdjust="spacingAndGlyphs">NZD/USD, 15</text>
<text x="94.0" y="21.55" font-size="11.4" fill="#131722" font-weight="normal" text-anchor="start" textLength="55.2" lengthAdjust="spacingAndGlyphs">O0.59000</text>
<text x="157.0" y="21.55" font-size="11.4" fill="#131722" font-weight="normal" text-anchor="start" textLength="55.6" lengthAdjust="spacingAndGlyphs">H0.59020</text>
<text x="220.2" y="21.55" font-size="11.4" fill="#131722" font-weight="normal" text-anchor="start" textLength="53.4" lengthAdjust="spacingAndGlyphs">L0.58980</text>
<text x="281.0" y="21.55" font-size="11.4" fill="#131722" font-weight="normal" text-anchor="start" textLength="53.8" lengthAdjust="spacingAndGlyphs">C0.58999</text>
<text x="343.9" y="21.55" font-size="11.4" fill="#131722" font-weight="normal" text-anchor="start" textLength="104.8" lengthAdjust="spacingAndGlyphs">-0.00011 (−0.02%)</text>
<text x="9.5" y="41" font-size="11.4" fill="#131722" font-weight="normal" text-anchor="start" textLength="106.4" lengthAdjust="spacingAndGlyphs">EMA (50, close, 0)</text>
<text x="9.5" y="60" font-size="11.4" fill="#131722" font-weight="normal" text-anchor="start" textLength="113.9" lengthAdjust="spacingAndGlyphs">EMA (200, close, 0)</text>
<text x="9.5" y="898.8" font-size="11.4" fill="#131722" font-weight="normal" text-anchor="start" textLength="136.4" lengthAdjust="spacingAndGlyphs">Stoch RSI (14, 14, 8, 8)</text>
<text x="153.2" y="898.8" font-size="11.4" fill="#ff6d00" font-weight="normal" text-anchor="start" textLength="33.0" lengthAdjust="spacingAndGlyphs">15.92</text>
</svg>
</body></html>
